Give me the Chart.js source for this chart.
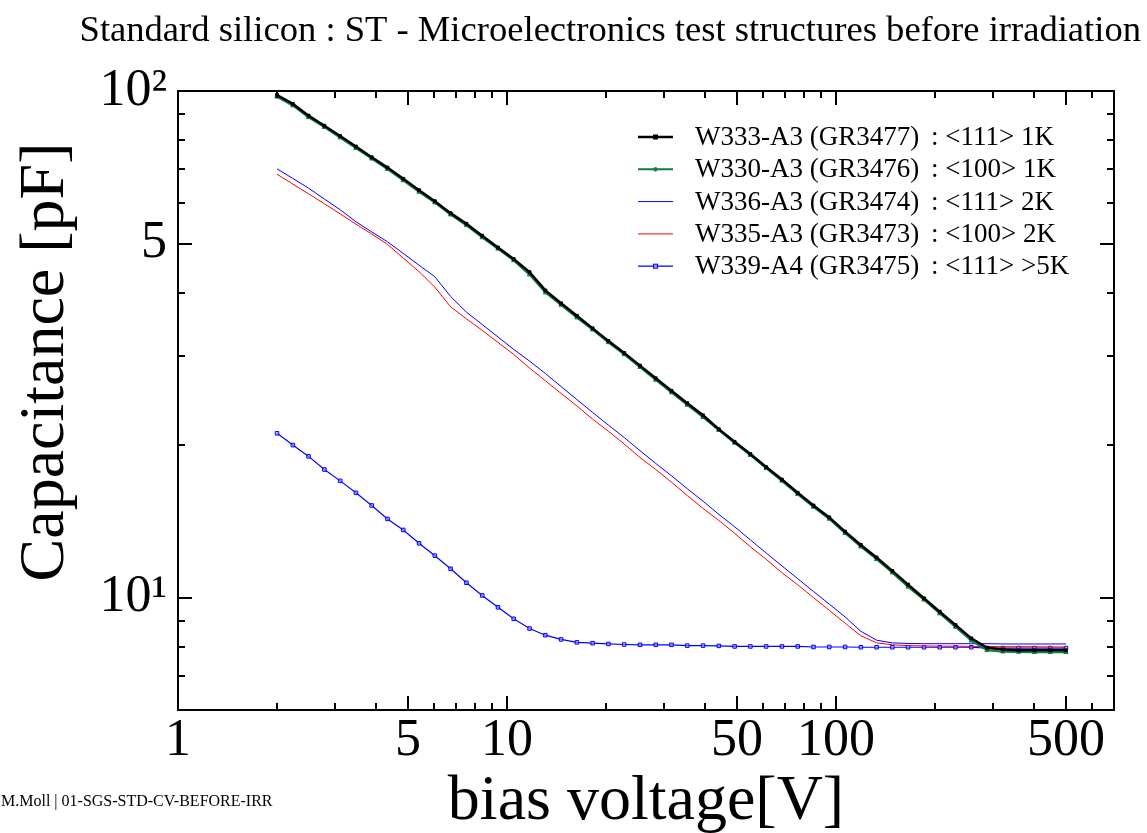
<!DOCTYPE html>
<html>
<head>
<meta charset="utf-8">
<script src="https://cdn.jsdelivr.net/npm/chart.js@4.4.1/dist/chart.umd.min.js"></script>
<style>
  html, body { margin: 0; padding: 0; background: #fff; }
</style>
</head>
<body>
<canvas id="cv" width="1147" height="833"></canvas>
<script>
// bias voltage points (V), log spaced 2 .. 500
const voltages = [2, 2.234, 2.494, 2.786, 3.111, 3.474, 3.880, 4.333, 4.839, 5.404,
  6.036, 6.740, 7.528, 8.407, 9.388, 10.48, 11.71, 13.08, 14.60, 16.31,
  18.21, 20.34, 22.72, 25.37, 28.33, 31.62, 35.32, 39.44, 44.05, 49.19,
  54.93, 61.35, 68.51, 76.51, 85.45, 95.41, 106.6, 119.0, 132.9, 148.4,
  165.7, 185.1, 206.7, 230.9, 257.8, 287.9, 321.5, 359.1, 401.0, 447.9, 500];

// capacitance (pF)
const w333 = [98.2, 94.3, 89.4, 85.4, 81.5, 77.7, 74.0, 70.6, 67.1, 63.7,
  60.6, 57.4, 54.7, 51.8, 49.1, 46.6, 43.9, 40.4, 38.1, 36.0,
  34.0, 32.1, 30.4, 28.7, 27.1, 25.6, 24.2, 22.9, 21.5, 20.3,
  19.2, 18.1, 17.1, 16.1, 15.2, 14.4, 13.5, 12.7, 12.0, 11.29,
  10.61, 9.97, 9.38, 8.83, 8.31, 7.96, 7.90, 7.87, 7.87, 7.87, 7.87];
const w330 = [97.4, 93.6, 88.7, 84.8, 80.9, 77.1, 73.5, 70.1, 66.6, 63.2,
  60.2, 57.0, 54.3, 51.4, 48.8, 46.3, 43.4, 40.0, 37.8, 35.7,
  33.8, 31.9, 30.2, 28.5, 26.9, 25.4, 24.0, 22.7, 21.4, 20.2,
  19.1, 18.0, 17.0, 16.0, 15.1, 14.3, 13.4, 12.6, 11.9, 11.2,
  10.5, 9.90, 9.30, 8.75, 8.22, 7.87, 7.82, 7.81, 7.80, 7.80, 7.80];
const w336 = [70.2, 67.2, 64.3, 61.2, 58.3, 55.2, 52.7, 50.4, 47.8, 45.3,
  43.0, 39.3, 36.6, 34.6, 32.7, 30.9, 29.3, 27.7, 26.1, 24.6,
  23.2, 21.9, 20.7, 19.5, 18.4, 17.4, 16.4, 15.5, 14.6, 13.8,
  13.0, 12.25, 11.55, 10.9, 10.28, 9.71, 9.16, 8.58, 8.24, 8.14,
  8.12, 8.11, 8.11, 8.11, 8.11, 8.11, 8.10, 8.10, 8.10, 8.10, 8.10];
const w335 = [68.5, 65.5, 62.7, 59.9, 57.2, 54.6, 52.2, 49.8, 46.8, 44.0,
  41.0, 37.5, 35.5, 33.7, 31.9, 30.2, 28.4, 26.8, 25.3, 23.9,
  22.5, 21.3, 20.1, 18.9, 17.9, 16.9, 15.9, 15.0, 14.2, 13.4,
  12.6, 11.9, 11.2, 10.6, 10.0, 9.44, 8.90, 8.41, 8.14, 8.07,
  8.04, 8.03, 8.02, 8.02, 8.01, 8.01, 8.00, 8.00, 8.00, 7.99, 7.99];
const w339 = [21.1, 20.0, 19.0, 17.9, 17.0, 16.1, 15.2, 14.3, 13.6, 12.8,
  12.1, 11.4, 10.7, 10.1, 9.57, 9.08, 8.69, 8.43, 8.27, 8.16,
  8.13, 8.10, 8.08, 8.07, 8.07, 8.07, 8.04, 8.04, 8.03, 8.01,
  8.01, 8.01, 8.01, 8.01, 7.99, 7.99, 7.99, 7.98, 7.98, 7.98,
  7.98, 7.98, 7.98, 7.98, 7.98, 7.95, 7.95, 7.95, 7.95, 7.95, 7.95];

const sampleNames = ['W333-A3 (GR3477)', 'W330-A3 (GR3476)', 'W336-A3 (GR3474)', 'W335-A3 (GR3473)', 'W339-A4 (GR3475)'];
const sampleTypes = [': <111> 1K', ': <100> 1K', ': <111> 2K', ': <100> 2K', ': <111> >5K'];

const xTickValues = [1, 2, 3, 4, 5, 6, 7, 8, 9, 10, 20, 30, 40, 50, 60, 70, 80, 90, 100, 200, 300, 400, 500, 600];
const xTickLabels = ['1', '', '', '', '5', '', '', '', '', '10', '', '', '', '50', '', '', '', '', '100', '', '', '', '500', ''];
const yTickValues = [6, 7, 8, 9, 10, 20, 30, 40, 50, 60, 70, 80, 90, 100];
const yTickLabels = ['', '', '', '', '10\u00b9', '', '', '', '5', '', '', '', '', '10\u00b2'];

const FONT = '"Liberation Serif", "Times New Roman", serif';

const pts = arr => voltages.map((v, i) => ({ x: v, y: arr[i] }));

// frame, inward ticks, y title, legend, footer
const decor = {
  id: 'decor',
  afterDraw(chart) {
    const { ctx, chartArea: a, scales: { x, y } } = chart;
    ctx.save();
    ctx.strokeStyle = '#000';
    ctx.lineWidth = 2;
    ctx.strokeRect(a.left, a.top, a.right - a.left, a.bottom - a.top);
    ctx.beginPath();
    xTickValues.forEach((v, i) => {
      const px = Math.round(x.getPixelForValue(v));
      const len = xTickLabels[i] ? 14 : 7;
      ctx.moveTo(px, a.bottom); ctx.lineTo(px, a.bottom - len);
      ctx.moveTo(px, a.top); ctx.lineTo(px, a.top + len);
    });
    yTickValues.forEach((v, i) => {
      const py = Math.round(y.getPixelForValue(v));
      const len = yTickLabels[i] ? 14 : 7;
      ctx.moveTo(a.left, py); ctx.lineTo(a.left + len, py);
      ctx.moveTo(a.right, py); ctx.lineTo(a.right - len, py);
    });
    ctx.stroke();

    ctx.fillStyle = '#000';
    // y axis title
    ctx.save();
    ctx.translate(46, 362);
    ctx.rotate(-Math.PI / 2);
    ctx.font = '64px ' + FONT;
    ctx.textAlign = 'center';
    ctx.textBaseline = 'middle';
    ctx.fillText('Capacitance [pF]', 0, 0);
    ctx.restore();

    // footer
    ctx.font = '16px ' + FONT;
    ctx.textAlign = 'left';
    ctx.textBaseline = 'alphabetic';
    ctx.fillText('M.Moll | 01-SGS-STD-CV-BEFORE-IRR', 1, 806);

    // legend
    ctx.font = '27px ' + FONT;
    ctx.textBaseline = 'middle';
    chart.data.datasets.forEach((ds, i) => {
      const ly = 137 + i * 32.3;
      ctx.strokeStyle = ds.borderColor;
      ctx.lineWidth = ds.borderWidth;
      ctx.beginPath();
      ctx.moveTo(638, ly); ctx.lineTo(673, ly);
      ctx.stroke();
      if (ds.pointRadius > 0) {
        ctx.lineWidth = 1;
        ctx.fillStyle = ds.pointBackgroundColor;
        ctx.strokeStyle = ds.pointBorderColor;
        if (ds.pointStyle === 'triangle') {
          ctx.beginPath(); ctx.arc(655.5, ly, 1.8, 0, Math.PI * 2); ctx.fill(); ctx.stroke();
        } else {
          ctx.fillRect(653.5, ly - 2, 4, 4); ctx.strokeRect(653.5, ly - 2, 4, 4);
        }
      }
      ctx.fillStyle = '#000';
      ctx.fillText(sampleNames[i], 695, ly + 1);
      ctx.fillText(sampleTypes[i], 931, ly + 1);
    });
    ctx.restore();
  }
};

const logTicks = (values, labels, pad) => ({
  afterBuildTicks: s => { s.ticks = values.map(v => ({ value: v })); },
  ticks: {
    autoSkip: false, maxRotation: 0, color: '#000', padding: pad,
    font: { family: FONT, size: 52 },
    callback: (v, i) => labels[i]
  },
  grid: { display: false, drawTicks: false },
  border: { display: false }
});

new Chart(document.getElementById('cv'), {
  type: 'line',
  data: {
    datasets: [
      { label: sampleNames[0], data: pts(w333), borderColor: '#000000', borderWidth: 2.5,
        pointStyle: 'rect', pointRadius: 2, pointBackgroundColor: '#000', pointBorderColor: '#000', pointBorderWidth: 1 },
      { label: sampleNames[1], data: pts(w330), borderColor: '#0a8040', borderWidth: 2,
        pointStyle: 'triangle', pointRadius: 2.5, pointBackgroundColor: '#0a8040', pointBorderColor: '#0a8040', pointBorderWidth: 1 },
      { label: sampleNames[2], data: pts(w336), borderColor: '#0000ff', borderWidth: 1, pointRadius: 0 },
      { label: sampleNames[3], data: pts(w335), borderColor: '#ff0000', borderWidth: 1, pointRadius: 0 },
      { label: sampleNames[4], data: pts(w339), borderColor: '#0000ff', borderWidth: 1.2,
        pointStyle: 'rect', pointRadius: 2.5, pointBackgroundColor: 'rgba(160,170,255,0.6)', pointBorderColor: '#0000ff', pointBorderWidth: 1 }
    ]
  },
  options: {
    responsive: false,
    animation: false,
    events: [],
    layout: { padding: { top: 0, right: 6, bottom: 0, left: 0 } },
    elements: { line: { tension: 0 } },
    plugins: {
      legend: { display: false },
      tooltip: { enabled: false },
      title: {
        display: true,
        text: 'Standard silicon : ST - Microelectronics test structures before irradiation',
        align: 'end',
        color: '#000',
        font: { family: FONT, size: 36.6, weight: 'normal' },
        padding: { top: 9, bottom: 38.08 }
      }
    },
    scales: {
      x: Object.assign(logTicks(xTickValues, xTickLabels, 0), {
        type: 'logarithmic', position: 'bottom', min: 1, max: 700,
        afterFit: s => { s.height = 123; },
        title: { display: true, text: 'bias voltage[V]', color: '#000',
          font: { family: FONT, size: 64 }, padding: { top: 0, bottom: -8 } }
      }),
      y: Object.assign(logTicks(yTickValues, yTickLabels, 11), {
        type: 'logarithmic', position: 'left', min: 6, max: 100,
        afterFit: s => { s.width = 178; }
      }),
      yR: {
        type: 'linear', position: 'right', display: true,
        ticks: { display: false }, grid: { display: false, drawTicks: false }, border: { display: false },
        afterFit: s => { s.width = 27; }
      }
    }
  },
  plugins: [decor]
});
</script>
</body>
</html>
